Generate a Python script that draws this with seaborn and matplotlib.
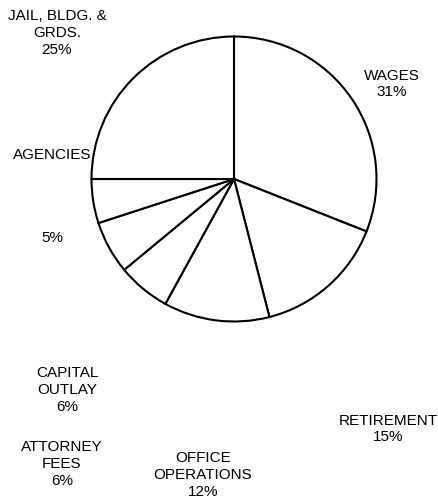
import matplotlib
matplotlib.use("Agg")
import matplotlib.pyplot as plt
import seaborn as sns

categories = ["WAGES", "RETIREMENT", "OFFICE\nOPERATIONS", "ATTORNEY\nFEES",
              "CAPITAL\nOUTLAY", "AGENCIES", "JAIL, BLDG. &\nGRDS."]
values = [31, 15, 12, 6, 6, 5, 25]
pct_labels = ["31%", "15%", "12%", "6%", "6%", "5%", "25%"]

sns.set_theme(style="white")
plt.rcParams['font.family'] = ['Liberation Sans', 'DejaVu Sans']

W, H = 439, 501
fig = plt.figure(figsize=(W / 100, H / 100), dpi=100)
cx, cy, r = 234, 179, 142.5
ax = fig.add_axes([(cx - r) / W, (H - cy - r) / H, 2 * r / W, 2 * r / H])
ax.pie(values, startangle=90, counterclock=False,
       colors=["white"] * len(values),
       wedgeprops=dict(edgecolor="black", linewidth=1.5))
ax.set_xlim(-1, 1)
ax.set_ylim(-1, 1)
ax.set_aspect("equal")
ax.axis("off")


def px(x, y):
    return (x - cx) / r, (cy - y) / r


FS = 11
# label block centers in pixels (layout)
label_pos = {
    0: (392, 84),
    1: (388, 429),
    2: (203, 475),
    3: (62, 464),
    4: (67, 390),
    6: (57, 33),
}
for i, (x, y) in label_pos.items():
    tx, ty = px(x, y)
    ax.text(tx, ty, categories[i] + "\n" + pct_labels[i], ha="center", va="center",
            fontsize=FS, color="black", linespacing=1.25, clip_on=False)

# AGENCIES label split
tx, ty = px(52, 155)
ax.text(tx, ty, categories[5], ha="center", va="center", fontsize=FS, color="black", clip_on=False)
tx, ty = px(52, 238)
ax.text(tx, ty, pct_labels[5], ha="center", va="center", fontsize=FS, color="black", clip_on=False)

fig.savefig("out.png", dpi=100, facecolor="white")
